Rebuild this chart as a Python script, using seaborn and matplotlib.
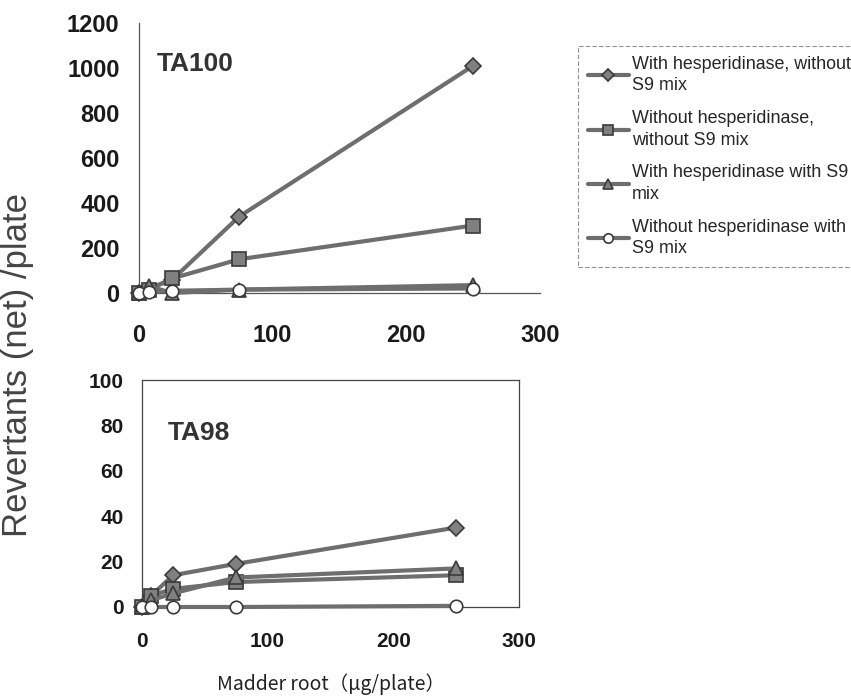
import pandas as pd
import matplotlib
matplotlib.use("Agg")
from matplotlib import pyplot as plt
import seaborn as sns

sns.set_style("white")
plt.rcParams['font.family'] = ['Liberation Sans', 'DejaVu Sans']

# doses (ug/plate)
doses = [0, 7.5, 25, 75, 250]

series_names = ["With hesperidinase, without\nS9 mix",
                "Without hesperidinase,\nwithout S9 mix",
                "With hesperidinase with S9\nmix",
                "Without hesperidinase with\nS9 mix"]

# TA100 revertants (net) / plate
ta100_hesp_noS9 = [0, 20, 60, 340, 1010]
ta100_nohesp_noS9 = [0, 15, 65, 150, 300]
ta100_hesp_S9 = [0, 30, 0, 15, 35]
ta100_nohesp_S9 = [0, 5, 10, 15, 20]

# TA98 revertants (net) / plate
ta98_hesp_noS9 = [0, 5, 14, 19, 35]
ta98_nohesp_noS9 = [0, 5, 8, 11, 14]
ta98_hesp_S9 = [0, 3, 6, 13, 17]
ta98_nohesp_S9 = [0, 0, 0, 0, 0.5]

markers = ['D', 's', '^', 'o']
face = ['#808080', '#808080', '#808080', 'white']
sizes = [8.5, 10, 10, 9]

fig = plt.figure(figsize=(8.51, 6.97), dpi=100)
ax1 = fig.add_axes([139/851, 1-293/697, 401/851, 270/697])
ax2 = fig.add_axes([141.7/851, 1-607/697, 377.3/851, 227/697])

def draw(ax, vals):
    for i, v in enumerate(vals):
        df = pd.DataFrame({'dose': doses, 'rev': v})
        sns.lineplot(data=df, x='dose', y='rev', ax=ax, color='#6e6e6e',
                     linewidth=3, marker=markers[i], markersize=sizes[i],
                     markerfacecolor=face[i], markeredgecolor='#3a3a3a',
                     markeredgewidth=1.2, label=series_names[i], legend=False,
                     clip_on=False, zorder=3)

draw(ax1, [ta100_hesp_noS9, ta100_nohesp_noS9, ta100_hesp_S9, ta100_nohesp_S9])
draw(ax2, [ta98_hesp_noS9, ta98_nohesp_noS9, ta98_hesp_S9, ta98_nohesp_S9])

# top panel
ax1.set_xlim(0, 300)
ax1.set_ylim(0, 1200)
ax1.set_xticks([0, 100, 200, 300])
ax1.set_yticks(range(0, 1201, 200))
ax1.spines['top'].set_visible(False)
ax1.spines['right'].set_visible(False)
for s in ['left', 'bottom']:
    ax1.spines[s].set_color('#555555')
    ax1.spines[s].set_linewidth(0.9)
ax1.tick_params(axis='both', direction='in', length=5, color='#555555',
                labelsize=17, labelcolor='#1a1a1a')
ax1.tick_params(axis='x', pad=22)
ax1.tick_params(axis='y', pad=14)
for lab in ax1.get_xticklabels() + ax1.get_yticklabels():
    lab.set_fontweight('bold')
ax1.set_xlabel('')
ax1.set_ylabel('')
ax1.text(157/851, 1-64/697, 'TA100', transform=fig.transFigure, fontsize=19,
         fontweight='bold', color='#333333', va='center', ha='left')

# bottom panel
ax2.set_xlim(0, 300)
ax2.set_ylim(0, 100)
ax2.set_xticks([0, 100, 200, 300])
ax2.set_yticks(range(0, 101, 20))
for s in ax2.spines.values():
    s.set_color('#444444')
    s.set_linewidth(0.9)
ax2.tick_params(axis='both', direction='in', length=5, color='#555555',
                labelsize=15, labelcolor='#1a1a1a')
ax2.tick_params(axis='x', pad=18)
ax2.tick_params(axis='y', pad=13)
for lab in ax2.get_xticklabels() + ax2.get_yticklabels():
    lab.set_fontweight('bold')
ax2.set_xlabel('')
ax2.set_ylabel('')
ax2.text(168/851, 1-433/697, 'TA98', transform=fig.transFigure, fontsize=19,
         fontweight='bold', color='#333333', va='center', ha='left')

# shared labels
fig.text(18/851, 1-365/697, 'Revertants (net) /plate', rotation=90,
         fontsize=25, color='#444444', ha='center', va='center')
fig.text(331/851, 1-684/697, 'Madder root（μg/plate）', fontsize=14,
         color='#222222', ha='center', va='center',
         family=['Noto Sans CJK JP', 'DejaVu Sans'])

handles, labels = ax1.get_legend_handles_labels()
leg = fig.legend(handles, labels, loc='upper left',
                 bbox_to_anchor=(578/851, 1-46/697), borderaxespad=0,
                 fontsize=12.9, frameon=True, fancybox=False, edgecolor='#777777',
                 handlelength=2.3, handletextpad=0.15, labelspacing=0.88,
                 borderpad=0.55, markerscale=0.75)
for t in leg.get_texts():
    t.set_linespacing(1.35)
leg.get_frame().set_linewidth(0.8)
leg.get_frame().set_linestyle((0, (4, 2)))

fig.savefig('out.png', dpi=100)
